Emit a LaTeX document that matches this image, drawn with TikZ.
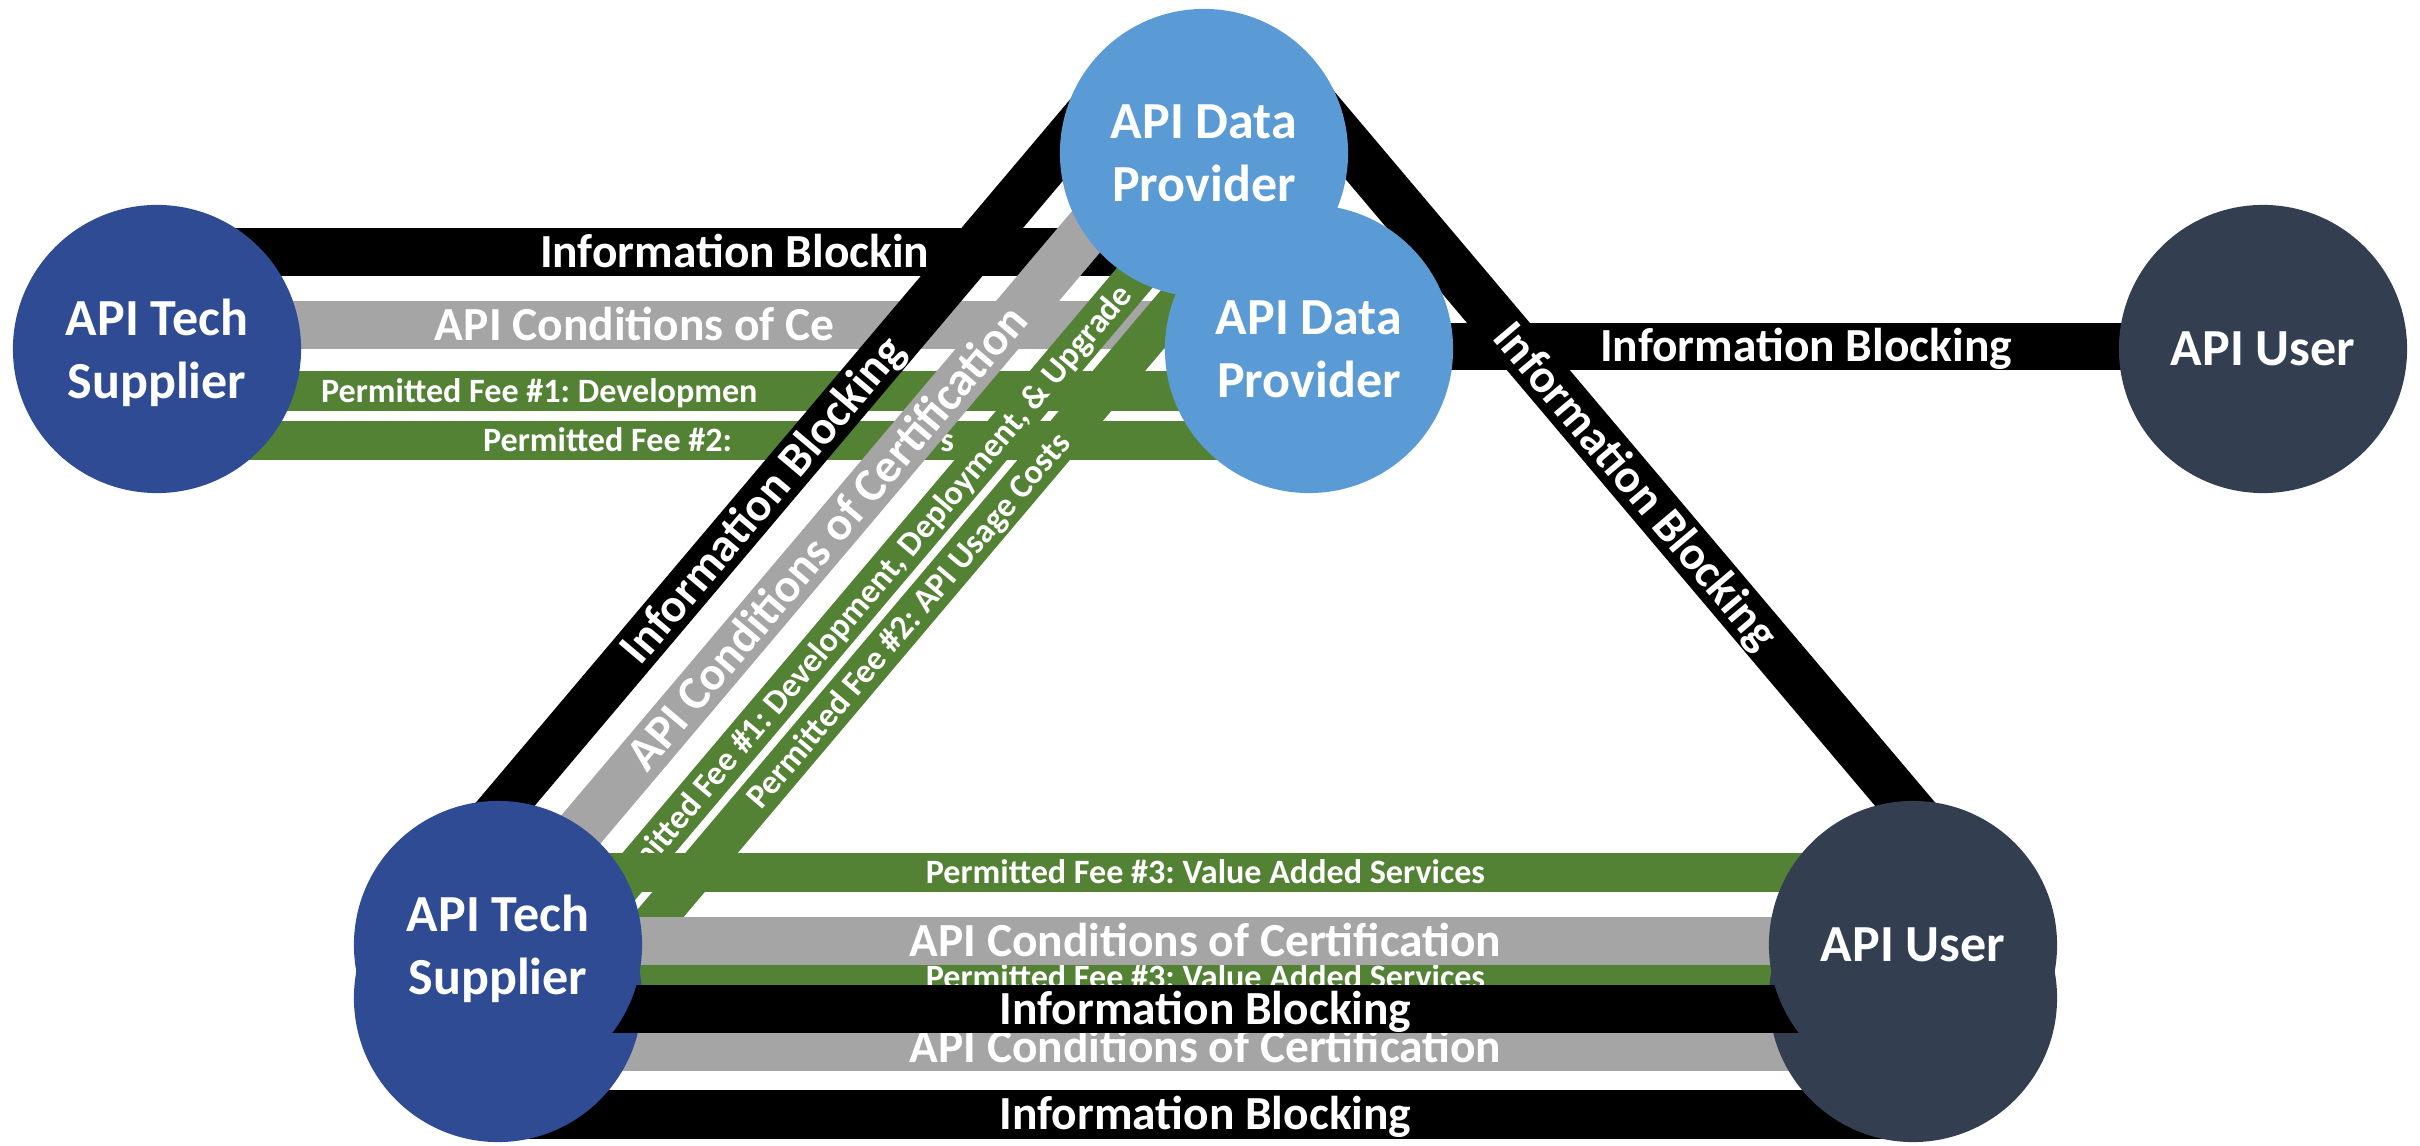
\documentclass[tikz,border=0pt]{standalone}
\usepackage{fontspec}
\setmainfont{Carlito}
\usepackage{tikz}
\usetikzlibrary{calc}
\definecolor{supblue}{HTML}{2F4B94}
\definecolor{provblue}{HTML}{5B9BD5}
\definecolor{userdark}{HTML}{333F50}
\definecolor{certgray}{HTML}{A5A5A5}
\definecolor{feegreen}{HTML}{548235}
\tikzstyle{actor} = [circle, minimum size=2.88cm, inner sep=0pt, text=white, align=center, text depth=0pt, font=\bfseries\fontsize{14.8}{17.8}\selectfont]
\tikzstyle{supplier} = [actor, fill=supblue]
\tikzstyle{provider} = [actor, fill=provblue]
\tikzstyle{apiuser} = [actor, fill=userdark]
\tikzstyle{blocking} = [line width=0.48cm, draw=black]
\tikzstyle{cert} = [line width=0.48cm, draw=certgray]
\tikzstyle{fee} = [line width=0.39cm, draw=feegreen]
\tikzstyle{bandtext} = [text=white, inner sep=0pt, outer sep=0pt, text height=0.30cm, text depth=0pt, font=\bfseries\fontsize{13.5}{16}\selectfont]
\tikzstyle{smalltext} = [text=white, inner sep=0pt, outer sep=0pt, text height=0.22cm, text depth=0pt, font=\bfseries\fontsize{9.7}{11.6}\selectfont]
\pgfdeclarelayer{bandsC}
\pgfdeclarelayer{circC}
\pgfdeclarelayer{bandsA}
\pgfdeclarelayer{diag}
\pgfdeclarelayer{bandsB}
\pgfsetlayers{bandsC,circC,bandsA,diag,bandsB,main}

\begin{document}
\frenchspacing
\begin{tikzpicture}[x=0.01cm, y=-0.01cm]
	\begin{pgfonlayer}{bandsC}
	\path [use as bounding box, fill=white] (0,0) rectangle (2420,1146);
	\end{pgfonlayer}
	% actors
	\node (sup1) [supplier] at (157,349) {API Tech\\Supplier};
	\node (prov1) [provider] at (1309,349) {API Data\\Provider};
	\node (user1) [apiuser] at (2263,349) {API User};
	\node (prov2) [provider] at (1204,153) {API Data\\Provider};
	\node (sup2) [supplier] at (498,945) {API Tech\\Supplier};
	\node (user2) [apiuser] at (1913,945) {API User};
	\begin{pgfonlayer}{circC}
	\node (sup3) [supplier] at (498,998) {};
	\node (user3) [apiuser] at (1913,998) {};
	\end{pgfonlayer}
	% lowest bands
	\begin{pgfonlayer}{bandsC}
	\draw [fee] ($(sup3)+(0,-20.5)$) -- node[smalltext] {Permitted Fee \#3: Value Added Services} ($(user3)+(0,-20.5)$);
	\draw [cert] ($(sup3)+(0,49)$) -- node[bandtext] {API Conditions of Certification} ($(user3)+(0,49)$);
	\draw [blocking] ($(sup3)+(0,116.5)$) -- node[bandtext] {Information Blocking} ($(user3)+(0,116.5)$);
	\end{pgfonlayer}
	% top row bands
	\begin{pgfonlayer}{bandsA}
	\draw [blocking] ($(sup1)+(0,-97)$) -- node[bandtext, pos=0.3325, anchor=west] {Information Blockin} ($(prov1)+(0,-97)$);
	\draw [cert] ($(sup1)+(0,-24)$) -- node[bandtext, pos=0.2413, anchor=west] {API Conditions of Ce} ($(prov1)+(0,-24)$);
	\draw [fee] ($(sup1)+(0,42)$) -- node[smalltext, pos=0.1424, anchor=west] {Permitted Fee \#1: Developmen} ($(prov1)+(0,42)$);
	\draw [fee] ($(sup1)+(0,91.5)$) -- node[smalltext, pos=0.283, anchor=west] {Permitted Fee \#2:} node[smalltext, pos=0.68, anchor=west] {s} ($(prov1)+(0,91.5)$);
	\draw [blocking, line width=0.47cm] ($(prov1)+(0,-2.5)$) -- node[bandtext, pos=0.521] {Information Blocking} ($(user1)+(0,-2.5)$);
	\end{pgfonlayer}
	% diagonal bands
	\begin{pgfonlayer}{diag}
	\draw [blocking, line width=0.47cm] ($(sup2)+(-65,-55.3)$) -- node[bandtext, sloped, pos=0.4814] {Information Blocking} ($(prov2)+(-86.8,-72.9)$);
	\draw [cert] ($(sup2)+(-8.4,-7.5)$) -- node[bandtext, sloped, pos=0.4931] {API Conditions of Certification} ($(prov2)+(-30.2,-25.1)$);
	\draw [fee, line width=0.40cm] ($(sup2)+(42.7,35.7)$) -- node[smalltext, sloped, pos=0.4736] {Permitted Fee \#1: Development, Deployment, \& Upgrade} ($(prov2)+(20.9,18.1)$);
	\draw [fee, line width=0.40cm] ($(sup2)+(79.4,66.7)$) -- node[smalltext, sloped, pos=0.4835] {Permitted Fee \#2: API Usage Costs} ($(prov2)+(57.6,49.1)$);
	\draw [blocking] ($(prov2)+(88,-74.4)$) -- node[bandtext, sloped, pos=0.5016] {Information Blocking} ($(user2)+(65.1,-54.4)$);
	\end{pgfonlayer}
	% bottom row bands
	\begin{pgfonlayer}{bandsB}
	\draw [fee] ($(sup2)+(0,-72.5)$) -- node[smalltext] {Permitted Fee \#3: Value Added Services} ($(user2)+(0,-72.5)$);
	\draw [cert] ($(sup2)+(0,-4)$) -- node[bandtext] {API Conditions of Certification} ($(user2)+(0,-4)$);
	\draw [blocking] ($(sup2)+(0,64)$) -- node[bandtext] {Information Blocking} ($(user2)+(0,64)$);
	\end{pgfonlayer}
\end{tikzpicture}
\end{document}
